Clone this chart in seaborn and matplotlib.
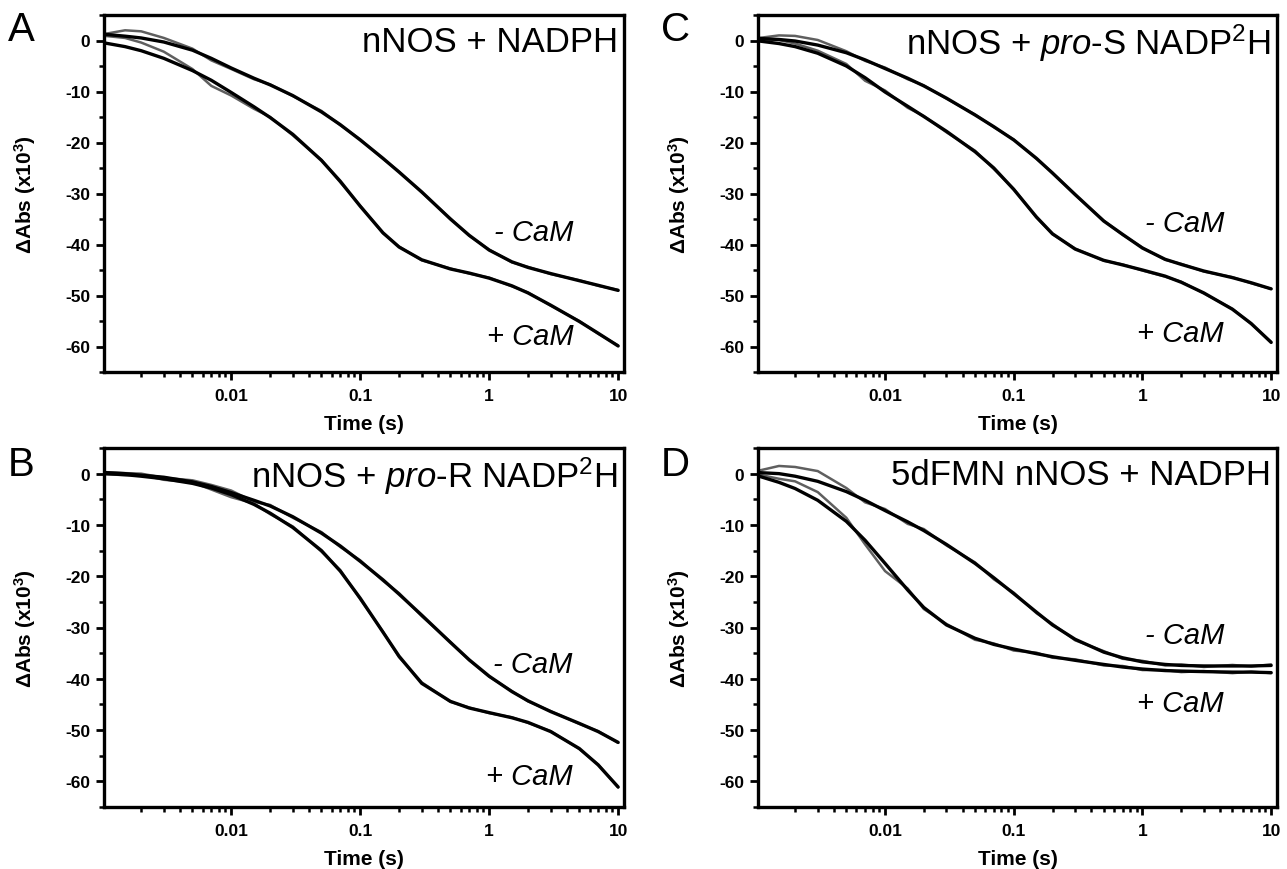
import numpy as np
import pandas as pd
import matplotlib
matplotlib.use("Agg")
import matplotlib.pyplot as plt
import seaborn as sns
from matplotlib import font_manager as fm
from matplotlib.ticker import FixedLocator, FixedFormatter, MultipleLocator, NullFormatter

# ---------------- data ----------------
T = [0.00105, 0.0015, 0.002, 0.003, 0.005, 0.007, 0.01, 0.015, 0.02, 0.03, 0.05, 0.07,
     0.1, 0.15, 0.2, 0.3, 0.5, 0.7, 1, 1.5, 2, 3, 5, 7, 10]

A_minus_fit = [1.2, 0.85, 0.5, -0.3, -1.9, -3.5, -5.4, -7.4, -8.7, -10.8, -14.0, -16.5,
               -19.5, -23.1, -25.8, -29.7, -35.0, -38.2, -41.1, -43.4, -44.5, -45.7, -47.1, -48.0, -49.0]
A_plus_fit = [-0.5, -1.2, -2.0, -3.5, -5.9, -7.8, -10.2, -13.0, -15.1, -18.4, -23.5, -27.6,
              -32.5, -37.7, -40.5, -43.0, -44.8, -45.6, -46.6, -48.1, -49.5, -51.9, -55.1, -57.4, -59.9]
A_minus_data = [1.3, 2.0, 1.8, 0.5, -1.6, -3.9, -5.6, -7.6, -8.6, -10.9, -13.8, -16.6,
                -19.4, -23.2, -25.7, -29.8, -34.9, -38.3, -41.0, -43.5, -44.4, -45.8, -47.0, -48.1, -48.9]
A_plus_data = [0.9, 0.5, -0.4, -2.2, -5.6, -8.9, -10.8, -13.4, -15.0, -18.6, -23.4, -27.8,
               -32.4, -37.8, -40.4, -43.1, -44.7, -45.7, -46.5, -48.2, -49.4, -52.0, -55.0, -57.5, -59.8]

B_minus_fit = [0.2, 0.0, -0.3, -0.7, -1.6, -2.5, -3.7, -5.2, -6.3, -8.4, -11.6, -14.1,
               -17.1, -20.7, -23.5, -27.6, -32.9, -36.3, -39.5, -42.5, -44.3, -46.4, -48.7, -50.3, -52.4]
B_plus_fit = [0.0, -0.2, -0.5, -1.0, -1.9, -2.8, -4.1, -6.0, -7.7, -10.5, -15.0, -19.0,
              -24.3, -30.9, -35.6, -40.9, -44.4, -45.7, -46.6, -47.6, -48.5, -50.3, -53.6, -56.8, -61.1]
B_minus_data = [0.3, 0.1, 0.0, -0.8, -1.3, -2.2, -3.3, -5.5, -6.1, -8.6, -11.4, -14.3,
                -16.9, -20.9, -23.3, -27.8, -32.8, -36.4, -39.6, -42.4, -44.4, -46.3, -48.8, -50.2, -52.5]
B_plus_data = [-0.1, -0.3, -0.2, -1.2, -1.7, -3.1, -4.6, -5.8, -7.9, -10.3, -15.2, -18.8,
               -24.5, -30.8, -35.8, -40.7, -44.5, -45.6, -46.7, -47.5, -48.6, -50.2, -53.7, -56.7, -61.2]

C_minus_fit = [0.4, 0.2, -0.1, -0.9, -2.4, -3.8, -5.5, -7.4, -8.9, -11.3, -14.6, -16.9,
               -19.5, -23.1, -26.0, -30.2, -35.4, -38.0, -40.7, -42.9, -43.9, -45.2, -46.5, -47.5, -48.7]
C_plus_fit = [-0.1, -0.6, -1.2, -2.5, -5.0, -7.3, -10.1, -12.9, -14.9, -17.8, -21.8, -25.0,
              -29.2, -34.6, -37.9, -40.9, -43.1, -44.0, -45.0, -46.2, -47.4, -49.5, -52.7, -55.5, -59.2]
C_minus_data = [0.5, 1.0, 0.9, 0.1, -2.1, -4.0, -5.3, -7.6, -8.8, -11.4, -14.5, -17.0,
                -19.4, -23.2, -25.9, -30.3, -35.3, -38.1, -40.6, -43.0, -43.8, -45.3, -46.4, -47.6, -48.7]
C_plus_data = [0.2, 0.1, -0.6, -2.0, -4.6, -7.9, -9.8, -13.2, -14.8, -18.0, -21.6, -25.2,
               -29.1, -34.7, -38.0, -40.8, -43.2, -43.9, -45.1, -46.3, -47.3, -49.6, -52.6, -55.6, -59.1]

D_minus_fit = [0.2, 0.0, -0.5, -1.5, -3.5, -5.2, -7.2, -9.4, -11.1, -13.8, -17.5, -20.3,
               -23.4, -27.0, -29.5, -32.3, -34.8, -35.9, -36.7, -37.2, -37.4, -37.5, -37.5, -37.5, -37.4]
D_plus_fit = [-0.5, -1.7, -2.9, -5.2, -9.3, -13.0, -17.5, -22.7, -26.1, -29.5, -32.1, -33.3,
              -34.2, -35.1, -35.7, -36.4, -37.2, -37.7, -38.1, -38.4, -38.5, -38.6, -38.7, -38.7, -38.8]
D_minus_data = [0.6, 1.5, 1.3, 0.5, -2.8, -5.6, -6.9, -9.8, -10.8, -14.0, -17.3, -20.6,
                -23.2, -27.2, -29.3, -32.5, -34.6, -36.1, -36.5, -37.4, -37.2, -37.7, -37.3, -37.6, -37.2]
D_plus_data = [-0.2, -1.0, -1.5, -3.6, -8.6, -13.8, -19.0, -22.4, -26.4, -29.3, -32.4, -33.1,
               -34.5, -34.9, -35.9, -36.2, -37.4, -37.5, -38.3, -38.3, -38.7, -38.5, -38.9, -38.6, -38.9]

panel_letters = ["A", "B", "C", "D"]
panel_titles = ["nNOS + NADPH",
                "nNOS + $\\it{pro}$-R NADP$^{2}$H",
                "nNOS + $\\it{pro}$-S NADP$^{2}$H",
                "5dFMN nNOS + NADPH"]
# right edge x (s) and centre y for the "- CaM" / "+ CaM" labels
minus_label_pos = [(4.5, -37.5), (4.4, -37.2), (4.3, -35.8), (4.3, -31.4)]
plus_label_pos = [(4.5, -58.0), (4.4, -59.0), (4.3, -57.3), (4.3, -44.7)]

x_tick_vals = [0.01, 0.1, 1, 10]
x_tick_labels = ["0.01", "0.1", "1", "10"]
y_tick_vals = [-60, -50, -40, -30, -20, -10, 0]

# ---------------- style ----------------
sns.set_theme(style="ticks")

def pick(fams):
    for f in fams:
        try:
            fm.findfont(f, fallback_to_default=False)
            return f
        except Exception:
            pass
    return "DejaVu Sans"

SANS = pick(["Liberation Sans", "Arial"])
plt.rcParams['font.family'] = [SANS, 'DejaVu Sans']
plt.rcParams['axes.unicode_minus'] = False
plt.rcParams['mathtext.fontset'] = 'custom'
plt.rcParams['mathtext.rm'] = SANS
plt.rcParams['mathtext.it'] = SANS + ':italic'
plt.rcParams['mathtext.bf'] = SANS + ':bold'
plt.rcParams['mathtext.default'] = 'regular'

W, H = 1287, 870
fig = plt.figure(figsize=(W / 100, H / 100), dpi=100)
fig.patch.set_facecolor("white")

# pixel boxes: left, right, top, bottom
boxes = {"A": (104, 624, 16, 373), "B": (104, 624, 449, 808),
         "C": (758, 1277, 16, 373), "D": (758, 1277, 449, 808)}
letter_pos = {"A": (8, 30), "B": (8, 465), "C": (661, 30), "D": (661, 465)}

series = {
    "A": (A_minus_data, A_plus_data, A_minus_fit, A_plus_fit),
    "B": (B_minus_data, B_plus_data, B_minus_fit, B_plus_fit),
    "C": (C_minus_data, C_plus_data, C_minus_fit, C_plus_fit),
    "D": (D_minus_data, D_plus_data, D_minus_fit, D_plus_fit),
}

for i, key in enumerate(panel_letters):
    l, r, t, b = boxes[key]
    ax = fig.add_axes([l / W, 1 - b / H, (r - l) / W, (b - t) / H])
    md, pd_, mf, pf = series[key]
    df = pd.DataFrame({"t": T, "md": md, "pd": pd_, "mf": mf, "pf": pf})
    for col, colr, lw in [("md", "#5f5f5f", 1.8), ("pd", "#5f5f5f", 1.8),
                          ("mf", "black", 2.4), ("pf", "black", 2.4)]:
        sns.lineplot(data=df, x="t", y=col, ax=ax, color=colr, lw=lw,
                     estimator=None, sort=False)
    ax.set_xscale("log")
    ax.set_xlim(0.00103, 11.1)
    ax.set_ylim(-65, 5)
    ax.xaxis.set_major_locator(FixedLocator(x_tick_vals))
    ax.xaxis.set_major_formatter(FixedFormatter(x_tick_labels))
    minors = [m * 10.0 ** e for e in range(-3, 1) for m in range(2, 10)]
    ax.xaxis.set_minor_locator(FixedLocator(minors))
    ax.xaxis.set_minor_formatter(NullFormatter())
    ax.set_yticks(y_tick_vals)
    ax.yaxis.set_minor_locator(MultipleLocator(5))
    ax.tick_params(axis="both", which="major", direction="out", length=6, width=2,
                   labelsize=12.5, color="black", labelcolor="black")
    ax.tick_params(axis="both", which="minor", direction="out", length=3.5, width=1.8,
                   color="black")
    ax.tick_params(axis="x", which="major", pad=5.5)
    ax.tick_params(axis="y", which="major", pad=4)
    ax.tick_params(top=False, right=False, which="both")
    for lab in ax.get_xticklabels() + ax.get_yticklabels():
        lab.set_fontweight("bold")
    for s in ax.spines.values():
        s.set_linewidth(2.4)
        s.set_color("black")
        s.set_visible(True)
    ax.set_facecolor("white")
    ax.set_xlabel("Time (s)", fontsize=15, fontweight="bold", color="black")
    ax.set_ylabel("ΔAbs (x10$^{3}$)", fontsize=15, fontweight="bold", color="black")
    ax.xaxis.set_label_coords(0.5, -0.118)
    ax.yaxis.set_label_coords(-0.127, 0.5)

    ax.text(0.988, 0.925, panel_titles[i], transform=ax.transAxes, ha="right",
            va="center", fontsize=25, color="black")
    mx, my = minus_label_pos[i]
    px, py = plus_label_pos[i]
    ax.text(mx, my, "- CaM", ha="right", va="center", fontsize=21, style="italic",
            color="black")
    ax.text(px, py, "+ CaM", ha="right", va="center", fontsize=21, style="italic",
            color="black")
    lx, ly = letter_pos[key]
    fig.text(lx / W, 1 - ly / H, key, ha="left", va="center", fontsize=29, color="black")

fig.savefig("out.png", dpi=100, facecolor="white")
